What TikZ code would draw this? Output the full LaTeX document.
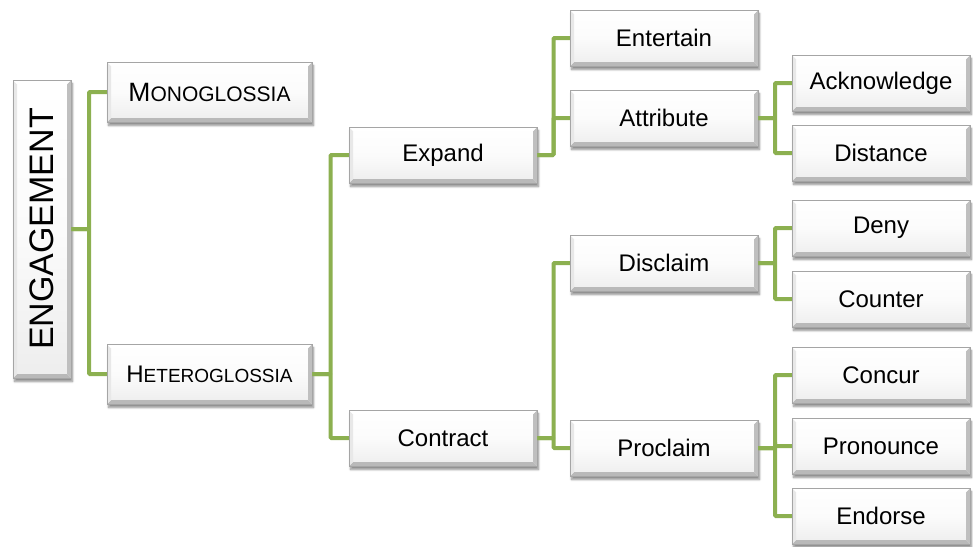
\documentclass[tikz,border=0pt]{standalone}
\usepackage{fontspec}
\setmainfont{Liberation Sans}
\usetikzlibrary{calc,shadows.blur}

\definecolor{branch}{RGB}{140,176,80}
\definecolor{boxedge}{RGB}{165,165,165}

\tikzset{
  bevelbox/.style={
    draw=boxedge, line width=0.5pt,
    top color=white, bottom color=gray!14, middle color=gray!3,
    blur shadow={shadow xshift=1.5pt, shadow yshift=-3.5pt, shadow blur steps=6, shadow opacity=45},
    minimum height=56pt, minimum width=188pt, inner sep=0pt,
    font=\fontsize{24}{28}\selectfont,
    path picture={
      \path (path picture bounding box.south west) coordinate (bvA)
            (path picture bounding box.south east) coordinate (bvB)
            (path picture bounding box.north east) coordinate (bvC)
            (path picture bounding box.north west) coordinate (bvD);
      \fill[gray!55] (bvA) -- (bvB) -- ([shift={(-4pt,4pt)}]bvB) -- ([shift={(4pt,4pt)}]bvA) -- cycle;
      \fill[gray!50] (bvB) -- (bvC) -- ([shift={(-4pt,-4pt)}]bvC) -- ([shift={(-4pt,4pt)}]bvB) -- cycle;
      \fill[gray!18] (bvA) -- (bvD) -- ([shift={(4pt,-4pt)}]bvD) -- ([shift={(4pt,4pt)}]bvA) -- cycle;
      \fill[white] (bvD) -- (bvC) -- ([shift={(-4pt,-4pt)}]bvC) -- ([shift={(4pt,-4pt)}]bvD) -- cycle;
    }},
  link/.style={draw=branch, line width=4pt, rounded corners=1pt}
}

\begin{document}
\begin{tikzpicture}[x=1pt, y=-1pt]
  \useasboundingbox (0,0) rectangle (973,546);

  % root
  \node[bevelbox, minimum width=58pt, minimum height=298pt] (eng) at (42,229)
    {\rotatebox{90}{\fontsize{34}{40}\selectfont ENGAGEMENT}};

  % first level
  \node[bevelbox, minimum width=205pt, minimum height=60pt] (mono) at (209.5,92)
    {\fontsize{26.5}{30}\selectfont M\fontsize{21}{25}\selectfont ONOGLOSSIA};
  \node[bevelbox, minimum width=205pt, minimum height=60pt] (hetero) at (209.5,374)
    {H\fontsize{19}{24}\selectfont ETEROGLOSSIA};

  % second level
  \node[bevelbox] (expand)   at (443,155) {Expand};
  \node[bevelbox] (contract) at (443,438) {Contract};

  % third level
  \node[bevelbox] (entertain) at (664,38)  {Entertain};
  \node[bevelbox] (attribute) at (664,118) {Attribute};
  \node[bevelbox] (disclaim)  at (664,263) {Disclaim};
  \node[bevelbox] (proclaim)  at (664,448) {Proclaim};

  % fourth level
  \node[bevelbox, minimum width=178pt] (acknowledge) at (881,83)  {Acknowledge};
  \node[bevelbox, minimum width=178pt] (distance)    at (881,153) {Distance};
  \node[bevelbox, minimum width=178pt] (deny)        at (881,228) {Deny};
  \node[bevelbox, minimum width=178pt] (counter)     at (881,299) {Counter};
  \node[bevelbox, minimum width=178pt] (concur)      at (881,375) {Concur};
  \node[bevelbox, minimum width=178pt] (pronounce)   at (881,446) {Pronounce};
  \node[bevelbox, minimum width=178pt] (endorse)     at (881,516) {Endorse};

  % elbow connectors, turning halfway between parent and child
  \foreach \p/\c in {eng/mono, eng/hetero,
                     hetero/expand, hetero/contract,
                     expand/entertain, expand/attribute,
                     attribute/acknowledge, attribute/distance,
                     contract/disclaim, contract/proclaim,
                     disclaim/deny, disclaim/counter,
                     proclaim/concur, proclaim/pronounce, proclaim/endorse}
    \draw[link] (\p.east) -| ($(\p.east)!.5!(\c.west)$) |- (\c.west);
\end{tikzpicture}
\end{document}
